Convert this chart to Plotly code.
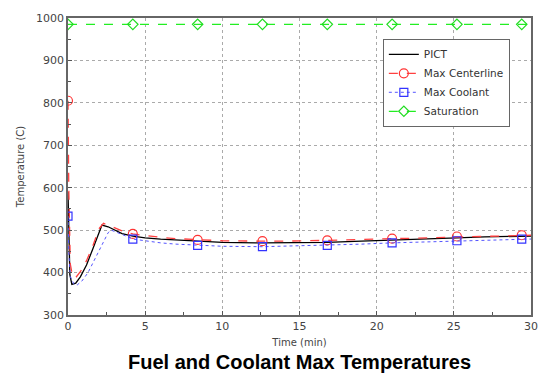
import plotly.graph_objects as go

# PICT (black solid)
t_pict = [0, 0.05, 0.12, 0.25, 0.5, 0.8, 1.2, 1.6, 2.0, 2.2, 2.6, 3.0, 3.5, 4.2, 5, 6, 7, 8.4, 10, 12.6, 14, 16.8, 19, 21, 23, 25.2, 27, 29.4, 30]
v_pict = [590, 470, 395, 372, 375, 390, 418, 455, 496, 512, 508, 500, 492, 486, 482, 479, 477, 474, 471, 470, 470, 471, 474, 477, 479, 482, 484, 486, 486]

# Max Centerline (red dashed, circles)
t_cl = [0, 0.05, 0.15, 0.3, 0.5, 0.8, 1.2, 1.6, 2.0, 2.3, 2.6, 3.0, 3.5, 4.2, 5, 6, 7, 8.4, 10, 12.6, 14, 16.8, 19, 21, 23, 25.2, 27, 29.4, 30]
v_cl = [805, 600, 420, 390, 388, 402, 428, 462, 503, 516, 512, 505, 498, 491, 487, 483, 480, 477, 475, 474, 474, 476, 478, 480, 482, 485, 487, 488, 488]

# Max Coolant (blue dotted, squares)
t_co = [0, 0.05, 0.15, 0.4, 0.6, 0.9, 1.3, 1.7, 2.2, 2.6, 2.8, 3.2, 3.7, 4.2, 5, 6, 7, 8.4, 10, 12.6, 14, 16.8, 19, 21, 23, 25.2, 27, 29.4, 30]
v_co = [533, 450, 390, 372, 371, 380, 400, 430, 466, 494, 500, 495, 487, 479, 475, 470, 467, 464, 462, 461, 462, 464, 467, 470, 472, 475, 477, 479, 479]

# Saturation (green dashed, diamonds)
t_sat = [0, 4.2, 8.4, 12.6, 16.8, 21.0, 25.2, 29.4, 30]
v_sat = [985, 985, 985, 985, 985, 985, 985, 985, 985]

marker_times = [0, 4.2, 8.4, 12.6, 16.8, 21.0, 25.2, 29.4]


def at_markers(ts, vs):
    xs, ys = [], []
    for t, v in zip(ts, vs):
        if any(abs(t - m) < 1e-9 for m in marker_times):
            xs.append(t)
            ys.append(v)
    return xs, ys


series = [
    ("PICT", t_pict, v_pict, dict(color="black", width=1.3), None),
    ("Max Centerline", t_cl, v_cl, dict(color="#ff4040", width=1.3, dash="dash"),
     dict(symbol="circle-open", size=9, color="#ff3333", line=dict(width=1.2))),
    ("Max Coolant", t_co, v_co, dict(color="#5555ff", width=1, dash="dot"),
     dict(symbol="square-open", size=8, color="#3333ff", line=dict(width=1.2))),
    ("Saturation", t_sat, v_sat, dict(color="#22ee22", width=1.3, dash="dash"),
     dict(symbol="diamond-open", size=8, color="#22dd22", line=dict(width=1.2))),
]

fig = go.Figure()
for name, ts, vs, ln, mk in series:
    fig.add_trace(go.Scatter(x=ts, y=vs, mode="lines", line=ln, showlegend=False, hoverinfo="skip"))
    if mk is not None:
        mx, my = at_markers(ts, vs)
        fig.add_trace(go.Scatter(x=mx, y=my, mode="markers", marker=mk, showlegend=False))
        fig.add_trace(go.Scatter(x=[None], y=[None], mode="lines+markers", name=name, line=ln, marker=mk))
    else:
        fig.add_trace(go.Scatter(x=[None], y=[None], mode="lines", name=name, line=ln))

axis_common = dict(showline=True, mirror=True, linecolor="#666", linewidth=1.5,
                   showgrid=True, gridcolor="#aaa", griddash="dot", gridwidth=1,
                   ticks="inside", ticklen=4, tickcolor="#555",
                   tickfont=dict(family="DejaVu Sans", size=11, color="#444"),
                   zeroline=False)

fig.update_xaxes(range=[0, 30], dtick=5, tick0=0,
                 minor=dict(ticks="inside", dtick=2.5, ticklen=3, tickcolor="#555", showgrid=False),
                 title=dict(text="Time (min)", font=dict(family="DejaVu Sans", size=10, color="#444"), standoff=7),
                 **axis_common)
fig.update_yaxes(range=[300, 1000], dtick=100, tick0=300,
                 minor=dict(ticks="inside", dtick=50, ticklen=3, tickcolor="#555", showgrid=False),
                 title=dict(text="Temperature (C)", font=dict(family="DejaVu Sans", size=10, color="#444"), standoff=10),
                 **axis_common)

fig.update_layout(
    width=543, height=373,
    margin=dict(l=68, r=5, t=18, b=58),
    plot_bgcolor="white", paper_bgcolor="white",
    showlegend=True,
    legend=dict(x=0.68, y=0.93, xanchor="left", yanchor="top",
                bgcolor="white", bordercolor="#666", borderwidth=1,
                font=dict(family="DejaVu Sans", size=10.5, color="#333"),
                tracegroupgap=0, itemwidth=30),
    annotations=[dict(text="<b>Fuel and Coolant Max Temperatures</b>", x=0.5, y=0,
                      xref="paper", yref="paper", xanchor="center", yanchor="top",
                      yshift=-34, showarrow=False,
                      font=dict(family="Liberation Sans, Arial", size=20, color="black"))],
)

fig.write_html("out.html")
